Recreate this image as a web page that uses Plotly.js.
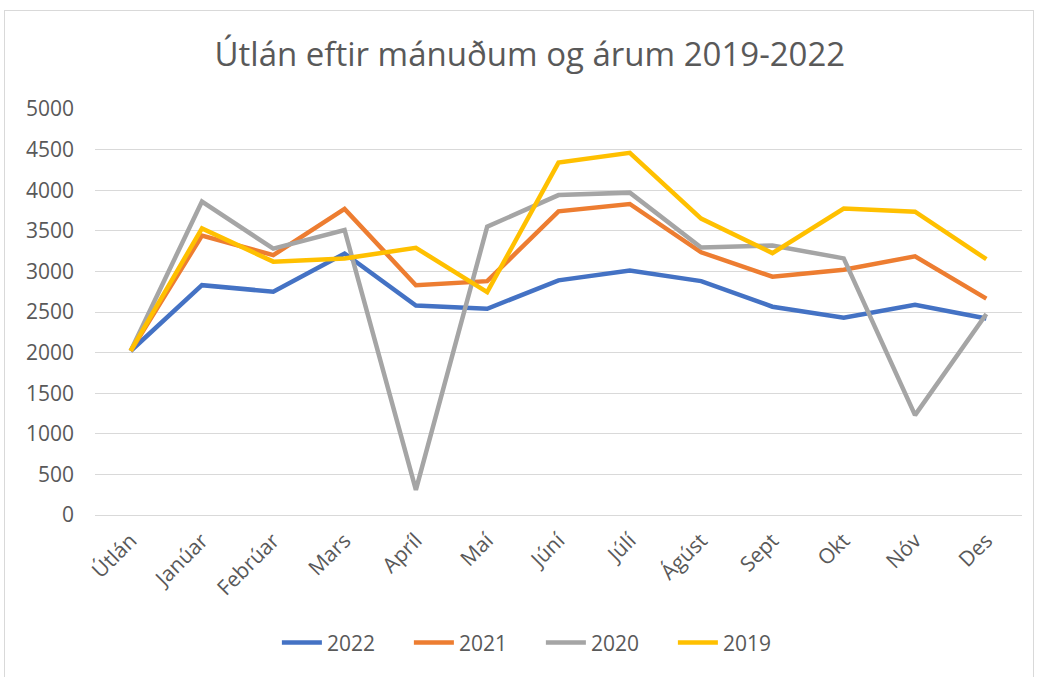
<!DOCTYPE html>
<html>
<head>
<meta charset="utf-8">
<script src="https://cdn.plot.ly/plotly-3.0.1.min.js"></script>
<style>
  html, body { margin: 0; padding: 0; background: #fff; }
  #chart { width: 1039px; height: 677px; }
  #frame { position: absolute; left: 4px; top: 10px; width: 1028px; height: 680px;
           border: 1px solid #d9d9d9; pointer-events: none; }
</style>
</head>
<body>
<div id="chart"></div>
<div id="frame"></div>
<script>
const categories = ['Útlán','Janúar','Febrúar','Mars','Apríl','Maí','Júní','Júlí','Ágúst','Sept','Okt','Nóv','Des'];
const y2022 = [2020, 2830, 2750, 3220, 2580, 2540, 2890, 3010, 2880, 2565, 2430, 2590, 2420];
const y2021 = [2020, 3440, 3200, 3770, 2830, 2880, 3740, 3830, 3235, 2935, 3020, 3185, 2665];
const y2020 = [2020, 3860, 3280, 3510, 310, 3550, 3940, 3970, 3295, 3320, 3160, 1230, 2475];
const y2019 = [2020, 3530, 3120, 3160, 3290, 2745, 4340, 4460, 3650, 3225, 3775, 3735, 3150];
const seriesNames = ['2022','2021','2020','2019'];
const seriesColors = ['#4472C4','#ED7D31','#A5A5A5','#FFC000'];
const seriesData = [y2022, y2021, y2020, y2019];

const traces = seriesData.map((vals, i) => ({
  x: categories, y: vals, type: 'scatter', mode: 'lines', name: seriesNames[i],
  line: { color: seriesColors[i], width: 4.5 }
}));

const font = "'Open Sans', 'Noto Sans', sans-serif";
const layout = {
  width: 1039, height: 677,
  margin: { l: 95, r: 17, t: 109, b: 162 },
  paper_bgcolor: '#ffffff', plot_bgcolor: '#ffffff',
  font: { family: font, color: '#595959', size: 21 },
  title: { text: 'Útlán eftir mánuðum og árum 2019-2022', x: 0.51, xref: 'container', xanchor: 'center',
           y: 0.92, yref: 'container', yanchor: 'middle', font: { family: font, size: 33, color: '#595959' } },
  xaxis: { type: 'category', range: [-0.5, 12.5], tickangle: -45, showgrid: false,
           showline: true, linecolor: '#d9d9d9', linewidth: 1, ticks: '',
           tickfont: { size: 21, color: '#595959' }, ticklabelstandoff: 4, fixedrange: true },
  yaxis: { range: [0, 5000], dtick: 500, showgrid: true, gridcolor: '#d9d9d9', gridwidth: 1,
           zeroline: false, showline: false, ticks: '', tickfont: { size: 21, color: '#595959' },
           ticklabelstandoff: 20, fixedrange: true },
  legend: { orientation: 'h', x: 0.481, xanchor: 'center', y: -0.315, yanchor: 'middle',
            font: { size: 21, color: '#595959' }, itemwidth: 40, entrywidth: 77, entrywidthmode: 'pixels',
            traceorder: 'normal' },
  showlegend: true
};
Plotly.newPlot('chart', traces, layout, { displayModeBar: false, staticPlot: true });
</script>
</body>
</html>
